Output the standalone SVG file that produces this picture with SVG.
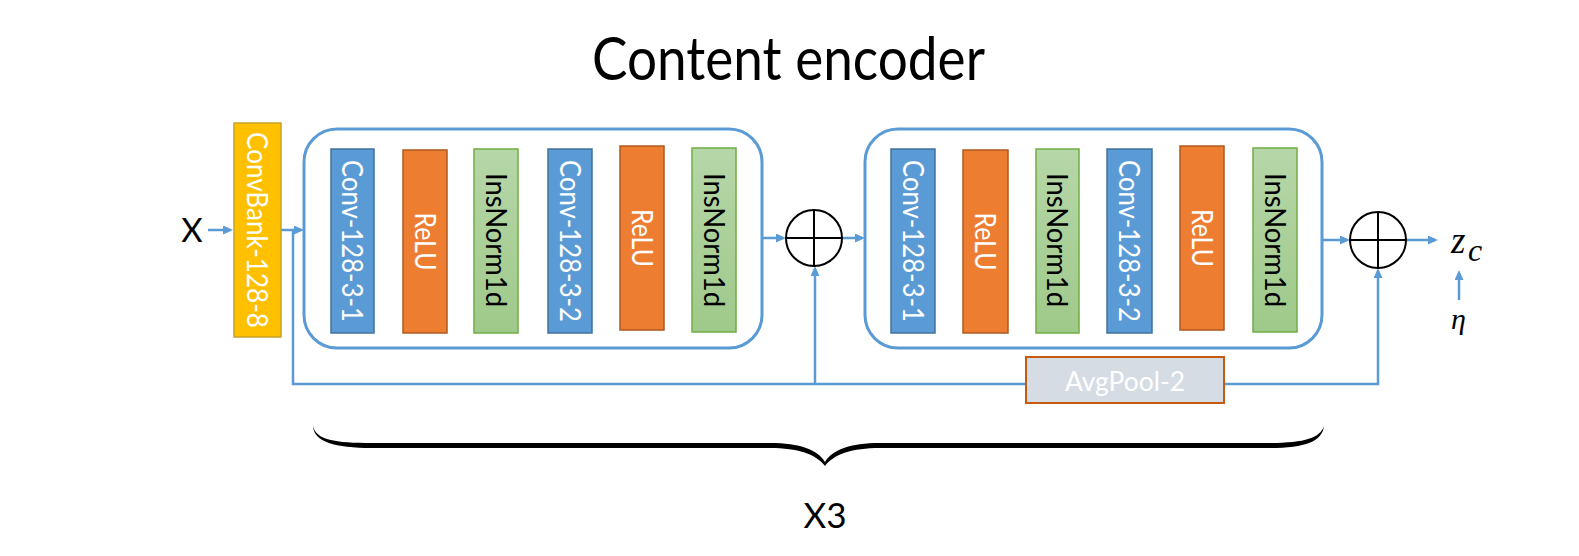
<svg xmlns="http://www.w3.org/2000/svg" width="1579" height="556" viewBox="0 0 1579 556">
<defs>
<linearGradient id="gGreen" x1="0" y1="0" x2="0" y2="1">
<stop offset="0" stop-color="#B6D7A8"/>
<stop offset="1" stop-color="#9FC98A"/>
</linearGradient>
<marker id="arr" markerUnits="userSpaceOnUse" markerWidth="12" markerHeight="10" refX="7" refY="4.5" orient="auto">
<path d="M0,0 L10,4.5 L0,9 z" fill="#5B9BD5"/>
</marker>
</defs>
<style>
.t{font-family:Lato,"Open Sans","Liberation Sans",sans-serif}
.vt{font-family:Lato,"Open Sans","Liberation Sans",sans-serif;font-size:29px;text-anchor:middle}
.w{fill:#FFFFFF}
.k{fill:#000000}
.outer{fill:#FFFFFF;stroke:#5B9BD5;stroke-width:3}
.conv{fill:#5B9BD5;stroke:#41719C;stroke-width:1.5}
.relu{fill:#ED7D31;stroke:#AE5A21;stroke-width:1.5}
.ins{fill:url(#gGreen);stroke:#70AD47;stroke-width:1.5}
.bank{fill:#FFC000;stroke:#C9A227;stroke-width:1.5}
.pool{fill:#D6DCE4;stroke:#C55A11;stroke-width:2}
.ln{fill:none;stroke:#5B9BD5;stroke-width:2.5}
.ar{fill:none;stroke:#5B9BD5;stroke-width:2.5;marker-end:url(#arr)}
.sum{fill:#FFFFFF;stroke:#000000;stroke-width:2}
.m{font-family:"Liberation Serif","DejaVu Serif",serif;font-style:italic;fill:#000000}
</style>
<rect width="1579" height="556" fill="#FFFFFF"/>

<text class="t" x="788.5" y="80" font-size="60" text-anchor="middle" textLength="393" lengthAdjust="spacingAndGlyphs">Content encoder</text>

<g id="connectors">
<line class="ar" x1="208" y1="230" x2="230" y2="230"/>
<line class="ar" x1="281" y1="230" x2="301" y2="230"/>
<polyline class="ln" points="293,230 293,384 1026,384"/>
<line class="ar" x1="815" y1="384" x2="815" y2="269"/>
<polyline class="ar" points="1224,384 1378,384 1378,271"/>
<line class="ar" x1="762" y1="238" x2="783" y2="238"/>
<line class="ar" x1="842" y1="238" x2="862" y2="238"/>
<line class="ar" x1="1322" y1="240" x2="1347" y2="240"/>
<line class="ar" x1="1406" y1="240" x2="1435" y2="240"/>
<line class="ar" x1="1459" y1="300" x2="1459" y2="273"/>
</g>

<g id="input-x"><text class="t" x="192" y="242" font-size="33" text-anchor="middle">X</text></g>

<g id="convbank">
<rect class="bank" x="234" y="123" width="47" height="214"/>
<text class="vt w" transform="translate(257.5,230) rotate(90)" y="10.5" textLength="196" lengthAdjust="spacingAndGlyphs">ConvBank-128-8</text>
</g>

<g id="block1">
<rect class="outer" x="304" y="129" width="458" height="219" rx="33"/>
<g id="b1-conv1"><rect class="conv" x="331" y="149" width="43" height="184"/>
<text class="vt w" transform="translate(352.5,241) rotate(90)" y="10.5" textLength="162" lengthAdjust="spacingAndGlyphs">Conv-128-3-1</text></g>
<g id="b1-relu1"><rect class="relu" x="403" y="150" width="44" height="183"/>
<text class="vt w" transform="translate(425,241.5) rotate(90)" y="10.5" textLength="58" lengthAdjust="spacingAndGlyphs">ReLU</text></g>
<g id="b1-ins1"><rect class="ins" x="474" y="149" width="44" height="184"/>
<text class="vt k" transform="translate(496,240) rotate(90)" y="10.5" textLength="134" lengthAdjust="spacingAndGlyphs">InsNorm1d</text></g>
<g id="b1-conv2"><rect class="conv" x="548" y="149" width="44" height="184"/>
<text class="vt w" transform="translate(570,241) rotate(90)" y="10.5" textLength="162" lengthAdjust="spacingAndGlyphs">Conv-128-3-2</text></g>
<g id="b1-relu2"><rect class="relu" x="620" y="146" width="44" height="184"/>
<text class="vt w" transform="translate(642,238) rotate(90)" y="10.5" textLength="58" lengthAdjust="spacingAndGlyphs">ReLU</text></g>
<g id="b1-ins2"><rect class="ins" x="692" y="148" width="44" height="184"/>
<text class="vt k" transform="translate(714,240) rotate(90)" y="10.5" textLength="134" lengthAdjust="spacingAndGlyphs">InsNorm1d</text></g>
</g>

<g id="sum1">
<circle class="sum" cx="814" cy="238" r="28"/>
<line x1="786" y1="238" x2="842" y2="238" stroke="#000" stroke-width="2"/>
<line x1="814" y1="210" x2="814" y2="266" stroke="#000" stroke-width="2"/>
</g>

<g id="block2">
<rect class="outer" x="865" y="129" width="457" height="219" rx="33"/>
<g id="b2-conv1"><rect class="conv" x="891" y="149" width="44" height="184"/>
<text class="vt w" transform="translate(913,241) rotate(90)" y="10.5" textLength="162" lengthAdjust="spacingAndGlyphs">Conv-128-3-1</text></g>
<g id="b2-relu1"><rect class="relu" x="963" y="150" width="45" height="183"/>
<text class="vt w" transform="translate(985.5,241.5) rotate(90)" y="10.5" textLength="58" lengthAdjust="spacingAndGlyphs">ReLU</text></g>
<g id="b2-ins1"><rect class="ins" x="1036" y="149" width="43" height="184"/>
<text class="vt k" transform="translate(1057.5,240) rotate(90)" y="10.5" textLength="134" lengthAdjust="spacingAndGlyphs">InsNorm1d</text></g>
<g id="b2-conv2"><rect class="conv" x="1107" y="149" width="45" height="184"/>
<text class="vt w" transform="translate(1129.5,241) rotate(90)" y="10.5" textLength="162" lengthAdjust="spacingAndGlyphs">Conv-128-3-2</text></g>
<g id="b2-relu2"><rect class="relu" x="1180" y="146" width="44" height="184"/>
<text class="vt w" transform="translate(1202,238) rotate(90)" y="10.5" textLength="58" lengthAdjust="spacingAndGlyphs">ReLU</text></g>
<g id="b2-ins2"><rect class="ins" x="1253" y="148" width="44" height="184"/>
<text class="vt k" transform="translate(1275,240) rotate(90)" y="10.5" textLength="134" lengthAdjust="spacingAndGlyphs">InsNorm1d</text></g>
</g>

<g id="sum2">
<circle class="sum" cx="1378" cy="240" r="28"/>
<line x1="1350" y1="240" x2="1406" y2="240" stroke="#000" stroke-width="2"/>
<line x1="1378" y1="212" x2="1378" y2="268" stroke="#000" stroke-width="2"/>
</g>

<g id="avgpool">
<rect class="pool" x="1026" y="357" width="198" height="46"/>
<text class="t" x="1125" y="391" font-size="26" fill="#FFFFFF" text-anchor="middle" textLength="120" lengthAdjust="spacingAndGlyphs">AvgPool-2</text>
</g>

<g id="output-zc">
<text class="m" x="1451" y="253" font-size="37">z</text>
<text class="m" x="1468" y="261" font-size="32">c</text>
</g>
<g id="noise-eta"><text class="m" x="1451" y="329" font-size="30">η</text></g>

<g id="brace">
<path d="M313,426 C316,440 335,443 372,443 L770,443 C800,443 818,450 825,462 C832,450 850,443 880,443 L1268,443 C1305,443 1320,438 1324,426 C1322,442 1305,448 1268,448 L880,448 C852,448 834,454 825,466 C816,454 798,448 770,448 L372,448 C335,448 314,442 313,426 Z" fill="#000"/>
<text class="t" x="825" y="528" font-size="35" text-anchor="middle">X3</text>
</g>
</svg>
